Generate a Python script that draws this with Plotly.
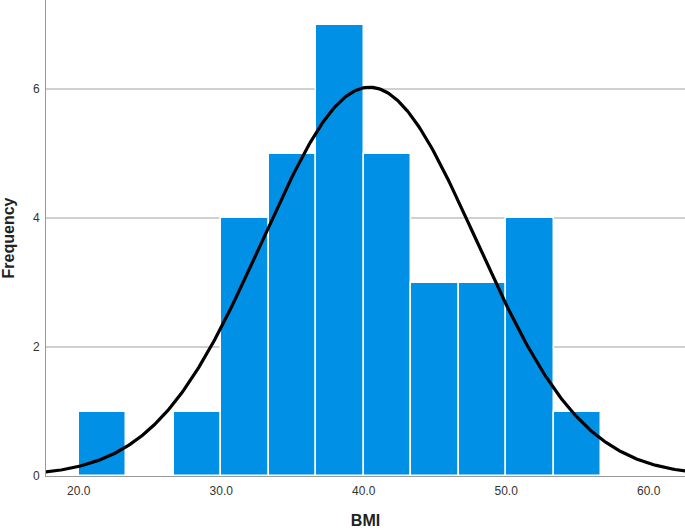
import numpy as np
import plotly.graph_objects as go

# Histogram data (BMI bins of width 10/3)
bin_edges = [20.0, 23.333, 26.667, 30.0, 33.333, 36.667, 40.0, 43.333, 46.667, 50.0, 53.333, 56.667]
counts = [1, 0, 1, 4, 5, 7, 5, 3, 3, 4, 1]

# Normal curve parameters
n_total = 34
mean_bmi = 40.4
sd_bmi = 7.5

x_ticks = [20, 30, 40, 50, 60]
x_tick_labels = ["20.0", "30.0", "40.0", "50.0", "60.0"]
y_ticks = [0, 2, 4, 6]

centers = [(a + b) / 2 for a, b in zip(bin_edges[:-1], bin_edges[1:])]
widths = [b - a for a, b in zip(bin_edges[:-1], bin_edges[1:])]
binw = widths[0]

xc = np.linspace(17.0, 63.0, 400)
yc = n_total * binw / (sd_bmi * np.sqrt(2 * np.pi)) * np.exp(-((xc - mean_bmi) ** 2) / (2 * sd_bmi ** 2))

fig = go.Figure()
fig.add_trace(go.Bar(
    x=centers, y=counts, width=widths,
    marker=dict(color="#0091E6", line=dict(color="#ffffff", width=1.5)),
    hoverinfo="x+y", showlegend=False,
))
fig.add_trace(go.Scatter(
    x=xc, y=yc, mode="lines",
    line=dict(color="#000000", width=3.2),
    showlegend=False, hoverinfo="skip",
))

fig.update_layout(
    width=685, height=530,
    margin=dict(l=46, r=0, t=0, b=54),
    plot_bgcolor="#ffffff", paper_bgcolor="#ffffff",
    bargap=0,
    font=dict(family="Liberation Sans, Arial, sans-serif", color="#333333"),
)
fig.update_xaxes(
    range=[17.7, 62.55],
    tickvals=x_ticks, ticktext=x_tick_labels,
    tickfont=dict(size=12, color="#333333"),
    showgrid=False, zeroline=False,
    showline=True, linecolor="#999999", linewidth=1,
    ticks="outside", ticklen=4, tickcolor="rgba(0,0,0,0)",
    title=dict(text="<b>BMI</b>", font=dict(size=16, color="#222222"), standoff=17),
)
fig.update_yaxes(
    range=[0, 7.38],
    tickvals=y_ticks,
    tickfont=dict(size=12, color="#333333"),
    showgrid=True, gridcolor="#d0d0d0", gridwidth=1.5,
    zeroline=False,
    showline=True, linecolor="#999999", linewidth=1,
    ticks="outside", ticklen=3, tickcolor="rgba(0,0,0,0)",
    title=dict(text="<b>Frequency</b>", font=dict(size=16, color="#222222"), standoff=16),
)

fig.write_html("out.html")
